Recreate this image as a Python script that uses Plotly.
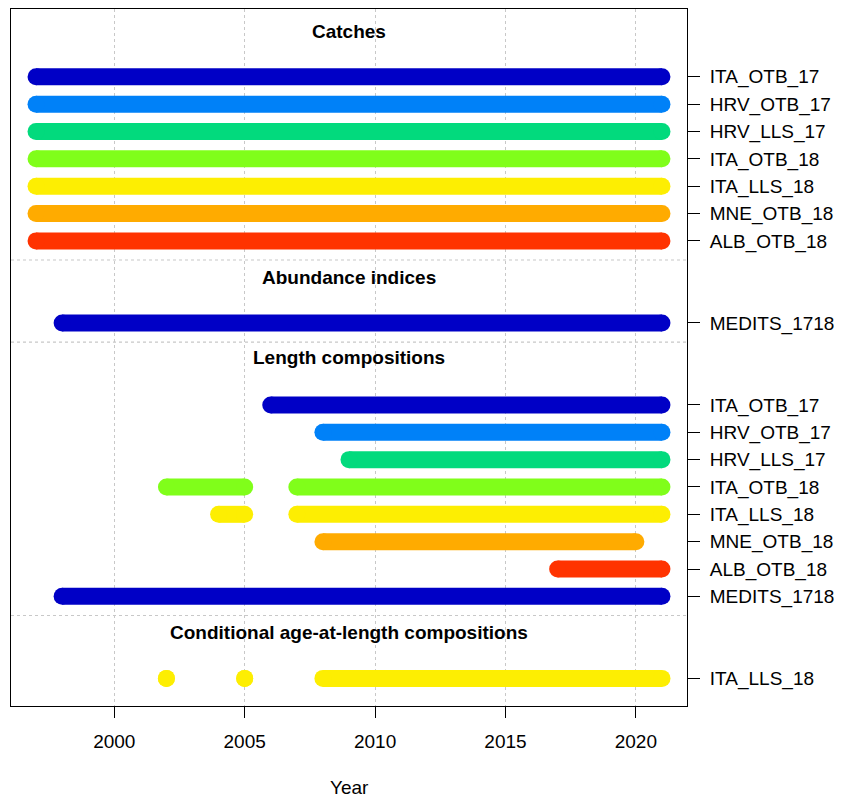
import plotly.graph_objects as go

# ---------------- data ----------------
catch_fleets = ["ITA_OTB_17", "HRV_OTB_17", "HRV_LLS_17", "ITA_OTB_18",
                "ITA_LLS_18", "MNE_OTB_18", "ALB_OTB_18"]
catch_start = [1997, 1997, 1997, 1997, 1997, 1997, 1997]
catch_end = [2021, 2021, 2021, 2021, 2021, 2021, 2021]

index_fleets = ["MEDITS_1718"]
index_start = [1998]
index_end = [2021]

length_fleets = ["ITA_OTB_17", "HRV_OTB_17", "HRV_LLS_17", "ITA_OTB_18",
                 "ITA_LLS_18", "MNE_OTB_18", "ALB_OTB_18", "MEDITS_1718"]
# segments: (fleet, start, end)
length_seg_fleet = ["ITA_OTB_17", "HRV_OTB_17", "HRV_LLS_17", "ITA_OTB_18", "ITA_OTB_18",
                    "ITA_LLS_18", "ITA_LLS_18", "MNE_OTB_18", "ALB_OTB_18", "MEDITS_1718"]
length_seg_start = [2006, 2008, 2009, 2002, 2007, 2004, 2007, 2008, 2017, 1998]
length_seg_end = [2021, 2021, 2021, 2005, 2021, 2005, 2021, 2020, 2021, 2021]

age_fleets = ["ITA_LLS_18"]
age_seg_fleet = ["ITA_LLS_18", "ITA_LLS_18", "ITA_LLS_18"]
age_seg_start = [2002, 2005, 2008]
age_seg_end = [2002, 2005, 2021]

section_titles = ["Catches", "Abundance indices", "Length compositions",
                  "Conditional age-at-length compositions"]

x_ticks = [2000, 2005, 2010, 2015, 2020]

# ---------------- styles ----------------
fleet_colors = {
    "ITA_OTB_17": "#0000C6",
    "HRV_OTB_17": "#0081F8",
    "HRV_LLS_17": "#02DA7D",
    "ITA_OTB_18": "#80FE1A",
    "ITA_LLS_18": "#FDEE02",
    "MNE_OTB_18": "#FFAB00",
    "ALB_OTB_18": "#FF3300",
    "MEDITS_1718": "#0000C6",
}
FONT = "Liberation Sans, Arial, sans-serif"
LW = 17

sections = [
    (catch_fleets, list(zip(catch_fleets, catch_start, catch_end))),
    (index_fleets, list(zip(index_fleets, index_start, index_end))),
    (length_fleets, list(zip(length_seg_fleet, length_seg_start, length_seg_end))),
    (age_fleets, list(zip(age_seg_fleet, age_seg_start, age_seg_end))),
]

fig = go.Figure()
tickvals, ticktext = [], []
title_rows, sep_rows = [], []
row = 0
title_offsets = [1.67, 1.67, 1.73, 1.67]
for si, (fleets, segs) in enumerate(sections):
    rowmap = {}
    title_rows.append(row - title_offsets[si])
    for f in fleets:
        rowmap[f] = row
        tickvals.append(row)
        ticktext.append(f)
        row += 1
    last = row - 1
    if si < len(sections) - 1:
        sep_rows.append(last + 0.7)
    for f, s, e in segs:
        y = rowmap[f]
        fig.add_trace(go.Scatter(
            x=[s, e], y=[y, y], mode="lines+markers",
            line=dict(color=fleet_colors[f], width=LW),
            marker=dict(color=fleet_colors[f], size=LW, line=dict(width=0)),
            showlegend=False, hoverinfo="skip"))
    row = last + 3

for yr in sep_rows:
    fig.add_shape(type="line", xref="paper", yref="y", x0=0, x1=1, y0=yr, y1=yr,
                  line=dict(color="#C8C8C8", width=1.2, dash="dot"), layer="below")

for t, yr in zip(section_titles, title_rows):
    fig.add_annotation(x=0.5, xref="paper", y=yr, yref="y", text="<b>%s</b>" % t,
                       showarrow=False, font=dict(family=FONT, size=19, color="black"),
                       xanchor="center", yanchor="middle")

fig.add_annotation(x=0.5, xref="paper", y=-0.1175, yref="paper", text="Year",
                   showarrow=False, font=dict(family=FONT, size=19, color="black"),
                   xanchor="center", yanchor="middle")

# page body has an 8px default margin: size the figure so it fits the 842x800 window
fig.update_layout(
    width=834, height=792,
    margin=dict(l=3, r=155, t=1, b=94),
    plot_bgcolor="white", paper_bgcolor="white",
    font=dict(family=FONT, size=19, color="black"),
    xaxis=dict(range=[1996.04, 2021.96], tickvals=x_ticks, ticks="outside", ticklen=11,
               tickcolor="black", showline=True, linecolor="black", linewidth=1, mirror=True,
               showgrid=True, gridcolor="#C8C8C8", griddash="dot", gridwidth=1.2,
               zeroline=False, tickfont=dict(size=19), ticklabelstandoff=7),
    yaxis=dict(range=[23.01, -2.48], tickvals=tickvals, ticktext=ticktext, side="right",
               ticks="outside", ticklen=12, tickcolor="black", showline=True,
               linecolor="black", linewidth=1, mirror=True, showgrid=False,
               zeroline=False, tickfont=dict(size=19), ticklabelstandoff=6),
)

fig.write_html("out.html")
